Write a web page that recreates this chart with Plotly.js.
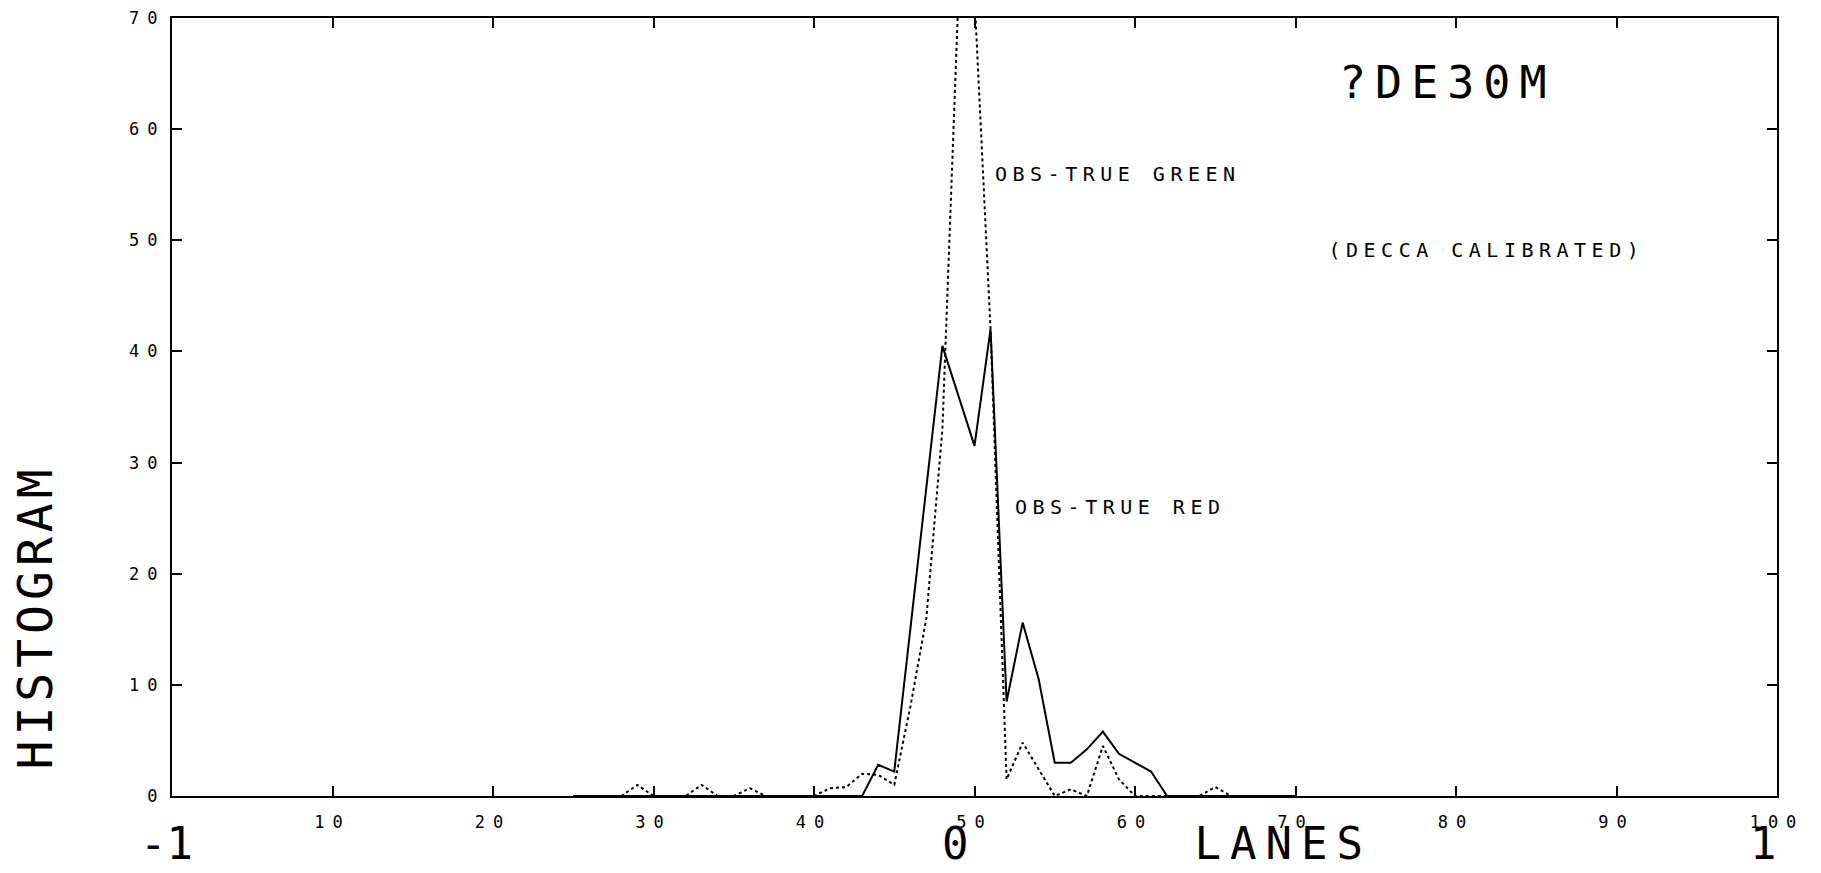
<!DOCTYPE html>
<html>
<head>
<meta charset="utf-8">
<script src="https://cdn.plot.ly/plotly-3.0.1.min.js"></script>
<style>
  html, body { margin: 0; padding: 0; background: #fff; }
  #chart { width: 1821px; height: 873px; }
  .xtick text { letter-spacing: 8px; }
  .ytick text { letter-spacing: 8px; }
  g.annotation[data-index="3"] text { letter-spacing: 9px; }
  g.annotation[data-index="4"] text { letter-spacing: 5px; }
  g.annotation[data-index="5"] text { letter-spacing: 9px; }
  g.annotation[data-index="6"] text { letter-spacing: 5.5px; }
  g.annotation[data-index="7"] text { letter-spacing: 5.5px; }
  g.annotation[data-index="8"] text { letter-spacing: 5.5px; }
</style>
</head>
<body>
<div id="chart"></div>
<script>
// Histogram bins (x axis position, 0..100)
const bins = [25,26,27,28,29,30,31,32,33,34,35,36,37,38,39,40,41,42,43,44,45,46,47,48,49,50,
              51,52,53,54,55,56,57,58,59,60,61,62,63,64,65,66,67,68,69,70];
// OBS-TRUE RED (solid line)
const obsTrueRed = [0,0,0,0,0,0,0,0,0,0,0,0,0,0,0,0,0,0,0,2.8,2.2,15,28,40.5,36,31.5,
                    42,8.5,15.6,10.5,3,3,4.2,5.8,3.8,3,2.2,0,0,0,0,0,0,0,0,0];
// OBS-TRUE GREEN (dotted line)
const obsTrueGreen = [0,0,0,0,1,0,0,0,1,0,0,0.7,0,0,0,0,0.7,0.8,2,1.9,1,8,16,33,72,72,
                      42,1.5,4.8,2.4,0,0.6,0,4.5,1.5,0,0,0,0,0,0.8,0,0,0,0,0];
// Axis ticks
const xTickVals = [10,20,30,40,50,60,70,80,90,100];
const xTickText = ["10","20","30","40","50","60","70","80","90","100"];
const yTickVals = [0,10,20,30,40,50,60,70];
const yTickText = ["0","10","20","30","40","50","60","70"];

const FONT = "DejaVu Sans Mono";

const traces = [
  {
    x: bins, y: obsTrueRed, type: "scatter", mode: "lines",
    line: {color: "#000", width: 2, dash: "solid"},
    name: "OBS-TRUE RED", hoverinfo: "x+y"
  },
  {
    x: bins, y: obsTrueGreen, type: "scatter", mode: "lines",
    line: {color: "#000", width: 2, dash: "dot"},
    name: "OBS-TRUE GREEN", hoverinfo: "x+y"
  }
];

const axisCommon = {
  showline: true, linecolor: "#000", linewidth: 2, mirror: "ticks",
  ticks: "inside", ticklen: 10, tickwidth: 2, tickcolor: "#000",
  showgrid: false, zeroline: false,
  tickfont: {family: FONT, size: 17, color: "#000"}
};

const bigFont = {family: FONT, size: 44, color: "#000"};

const layout = {
  width: 1821, height: 873,
  margin: {l: 172, r: 44, t: 18, b: 77},
  paper_bgcolor: "#fff", plot_bgcolor: "#fff",
  showlegend: false,
  xaxis: Object.assign({}, axisCommon, {
    range: [0, 100], tickmode: "array", tickvals: xTickVals, ticktext: xTickText,
    ticklabelstandoff: 10
  }),
  yaxis: Object.assign({}, axisCommon, {
    range: [0, 70], tickmode: "array", tickvals: yTickVals, ticktext: yTickText,
    ticklabelstandoff: 1
  }),
  annotations: [
    {text: "-1", xref: "x", yref: "paper", x: 0, y: 0, xanchor: "center", yanchor: "middle",
     xshift: -6, yshift: -47, showarrow: false, font: bigFont},
    {text: "0", xref: "x", yref: "paper", x: 50, y: 0, xanchor: "center", yanchor: "middle",
     xshift: -19, yshift: -47, showarrow: false, font: bigFont},
    {text: "1", xref: "x", yref: "paper", x: 100, y: 0, xanchor: "center", yanchor: "middle",
     xshift: -14, yshift: -47, showarrow: false, font: bigFont},
    {text: "LANES", xref: "x", yref: "paper", x: 69.2, y: 0, xanchor: "center", yanchor: "middle",
     yshift: -47, showarrow: false, font: bigFont},
    {text: "HISTOGRAM", xref: "paper", yref: "paper", x: -0.0854, y: 0.23, xanchor: "center",
     yanchor: "middle", textangle: -90, showarrow: false, font: {family: FONT, size: 48, color: "#000"}},
    {text: "?DE30M", xref: "x", yref: "y", x: 79.5, y: 64.2, xanchor: "center", yanchor: "middle",
     showarrow: false, font: {family: FONT, size: 45, color: "#000"}},
    {text: "(DECCA CALIBRATED)", xref: "x", yref: "y", x: 81.9, y: 49.1, xanchor: "center",
     yanchor: "middle", showarrow: false, font: {family: FONT, size: 20, color: "#000"}},
    {text: "OBS-TRUE GREEN", xref: "x", yref: "y", x: 51.15, y: 56.0, xanchor: "left", align: "left",
     yanchor: "middle", showarrow: false, font: {family: FONT, size: 20, color: "#000"}},
    {text: "OBS-TRUE RED", xref: "x", yref: "y", x: 52.4, y: 26.0, xanchor: "left", align: "left",
     yanchor: "middle", showarrow: false, font: {family: FONT, size: 20, color: "#000"}}
  ]
};

Plotly.newPlot("chart", traces, layout, {displayModeBar: false, staticPlot: true});
</script>
</body>
</html>
